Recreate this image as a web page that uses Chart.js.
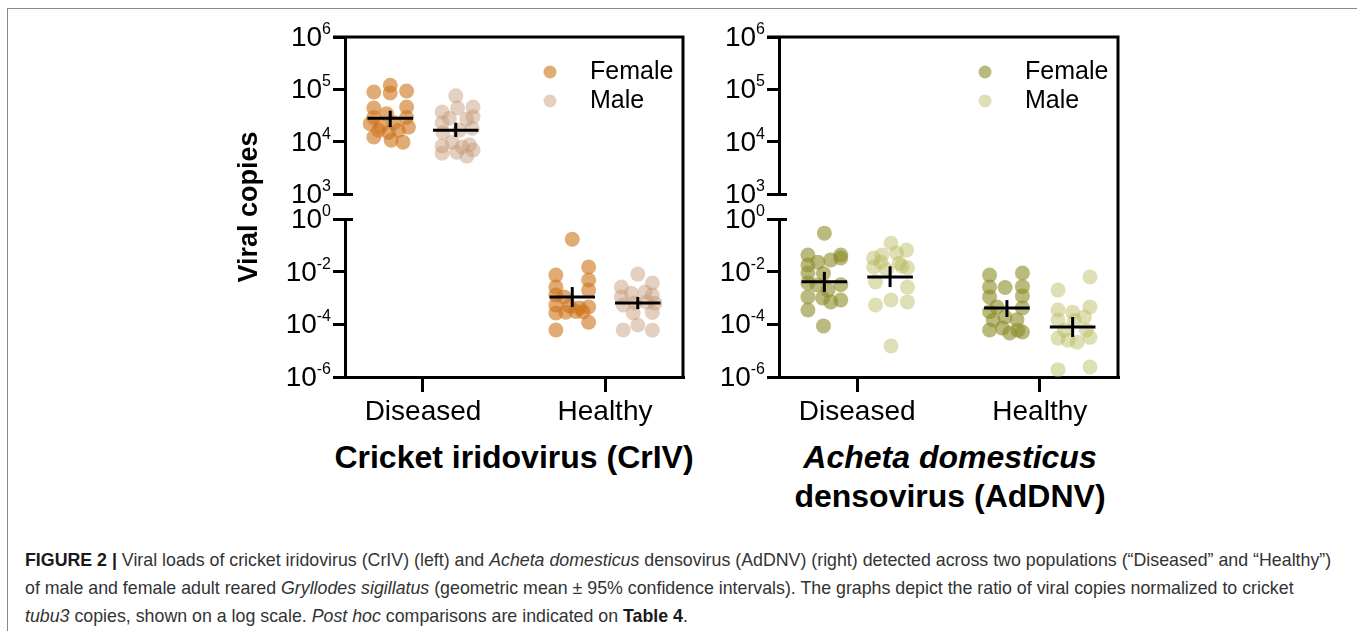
<!DOCTYPE html>
<html>
<head>
<meta charset="utf-8">
<script src="https://cdn.jsdelivr.net/npm/chart.js@4.4.1/dist/chart.umd.min.js"></script>
<style>
  body { margin: 0; background: #fff; width: 1357px; height: 631px; overflow: hidden; position: relative;
         font-family: "Liberation Sans", Arial, sans-serif; }
  #frame { position: absolute; left: 7px; top: 8px; width: 1400px; height: 700px;
           border-left: 1px solid #8a8a8a; border-top: 1px solid #8a8a8a; }
  .panel { position: absolute; top: 20px; height: 410px; }
  #p1 { left: 230px; width: 470px; }
  #p2 { left: 700px; width: 440px; }
  .title { position: absolute; font-weight: bold; font-size: 32px; line-height: 39px; text-align: center;
           color: #000; white-space: nowrap; width: 500px; top: 438px; }
  #caption { position: absolute; left: 25px; top: 546px; font-size: 17.8px; line-height: 28px;
             color: #333; white-space: nowrap; }
  #caption b { color: #1a1a1a; }
</style>
</head>
<body>
<div id="frame"></div>
<div class="panel" id="p1"><canvas id="c1" width="470" height="410"></canvas></div>
<div class="panel" id="p2"><canvas id="c2" width="440" height="410"></canvas></div>
<div class="title" style="left:264px">Cricket iridovirus (CrIV)</div>
<div class="title" style="left:700px"><i>Acheta domesticus</i><br>densovirus (AdDNV)</div>
<div id="caption">
<b>FIGURE 2 |</b> Viral loads of cricket iridovirus (CrIV) (left) and <i>Acheta domesticus</i> densovirus (AdDNV) (right) detected across two populations (“Diseased” and “Healthy”)<br>
of male and female adult reared <i>Gryllodes sigillatus</i> (geometric mean ± 95% confidence intervals). The graphs depict the ratio of viral copies normalized to cricket<br>
<i>tubu3</i> copies, shown on a log scale. <i>Post hoc</i> comparisons are indicated on <b>Table 4</b>.
</div>

<script>
// categories and ticks
const categories = ['Diseased', 'Healthy'];
const sexes = ['Female', 'Male'];
const yTopTicks = [1e3, 1e4, 1e5, 1e6];
const yBotTicks = [1e-6, 1e-4, 1e-2, 1e0];

// CrIV - viral copies per cricket
const crivDisF = [8.9e4, 1.2e5, 8.5e4, 9.3e4, 4.4e4, 4.6e4, 2.9e4, 3.4e4, 2.9e4, 2.2e4, 2.0e4, 2.3e4, 1.9e4, 1.23e4, 1.5e4, 1.07e4, 9.8e3, 1.65e4, 1.65e4];
const crivDisFJit = [-0.18, 0, 0, 0.18, -0.18, 0.18, -0.18, -0.04, 0.18, -0.22, -0.10, 0.04, 0.20, -0.18, -0.02, 0.01, 0.14, 0.09, -0.13];
const crivDisM = [7.5e4, 3.7e4, 4.4e4, 4.6e4, 2.3e4, 2.8e4, 2.7e4, 3.0e4, 1.5e4, 1.65e4, 1.8e4, 8.3e3, 9.8e3, 7.9e3, 8.7e3, 6.0e3, 6.3e3, 6.9e3, 5.3e3];
const crivDisMJit = [0, -0.15, 0.02, 0.19, -0.15, -0.07, 0.12, 0.19, -0.14, 0.04, 0.18, -0.15, -0.04, 0.07, 0.15, -0.15, 0.01, 0.19, 0.12];
const crivHeaF = [1.7e-1, 7.4e-3, 1.5e-2, 2.6e-3, 4.8e-3, 1.3e-3, 2.0e-3, 1.1e-3, 5.4e-4, 5.0e-4, 4.2e-4, 4.6e-4, 2.7e-4, 2.9e-4, 3.1e-4, 3.0e-4, 1.2e-4, 6.1e-5];
const crivHeaFJit = [0, -0.18, 0.18, -0.18, 0.18, -0.18, 0.18, -0.09, -0.18, -0.03, 0.08, 0.18, -0.18, -0.07, 0.04, 0.12, 0.18, -0.18];
const crivHeaM = [8.1e-3, 2.6e-3, 3.7e-3, 1.1e-3, 1.5e-3, 1.7e-3, 1.3e-3, 5.4e-4, 6.5e-4, 7.0e-4, 6.3e-4, 2.7e-4, 2.8e-4, 6.1e-5, 9.4e-5, 6.0e-5];
const crivHeaMJit = [0, -0.18, 0.16, -0.18, -0.07, 0.08, 0.16, -0.16, -0.03, 0.10, 0.19, -0.05, 0.16, -0.16, 0, 0.16];
// geometric means and 95% CI [Diseased, Healthy]
const crivMeanF = [2.8e4, 1.1e-3], crivLoF = [1.9e4, 4.6e-4], crivHiF = [3.9e4, 2.6e-3];
const crivMeanM = [1.66e4, 6.5e-4], crivLoM = [1.23e4, 3.8e-4], crivHiM = [2.3e4, 1.1e-3];

// AdDNV
const adnvDisF = [2.9e-1, 4.3e-2, 1.8e-2, 8.9e-3, 2.3e-2, 2.8e-2, 4.3e-2, 3.3e-2, 8.5e-3, 3.7e-3, 3.1e-3, 2.0e-3, 3.2e-3, 1.1e-3, 1.0e-3, 7.1e-4, 8.4e-4, 3.5e-4, 8.7e-5];
const adnvDisFJit = [0, -0.18, -0.18, -0.18, -0.07, 0.07, 0.18, 0.18, -0.01, -0.18, -0.08, 0.04, 0.18, -0.18, -0.02, 0.07, 0.18, -0.18, -0.01];
const adnvDisM = [1.2e-1, 3.3e-2, 4.3e-2, 5.1e-2, 6.6e-2, 1.5e-2, 1.6e-2, 1.4e-2, 1.2e-2, 2.3e-2, 2.1e-2, 4.1e-3, 2.6e-3, 5.4e-4, 8.4e-4, 7.1e-4, 1.5e-5];
const adnvDisMJit = [0.01, -0.18, -0.09, 0.07, 0.18, -0.18, 0.13, 0.19, -0.04, -0.10, 0.10, -0.16, 0.19, -0.16, 0.01, 0.19, 0.01];
const adnvHeaF = [7.4e-3, 8.9e-3, 2.6e-3, 2.5e-3, 2.7e-3, 1.1e-3, 1.2e-3, 3.0e-4, 4.6e-4, 4.2e-4, 1.45e-4, 1.9e-4, 1.5e-4, 6.1e-5, 7.2e-5, 4.7e-5, 6.0e-5, 5.1e-5];
const adnvHeaFJit = [-0.19, 0.17, -0.19, -0.02, 0.17, -0.19, 0.17, -0.19, -0.11, 0.17, -0.15, -0.02, 0.11, -0.19, -0.05, 0.03, 0.12, 0.17];
const adnvHeaM = [2.0e-3, 6.3e-3, 3.5e-4, 2.9e-4, 4.6e-4, 1.45e-4, 1.4e-4, 1.9e-4, 3.0e-5, 2.5e-5, 2.1e-5, 3.2e-5, 1.9e-6, 2.4e-6, 6.1e-5, 6.0e-5];
const adnvHeaMJit = [-0.16, 0.19, -0.16, 0, 0.19, -0.16, 0.02, 0.13, -0.16, -0.05, 0.05, 0.19, -0.16, 0.19, -0.09, 0.15];
const adnvMeanF = [4.1e-3, 4.2e-4], adnvLoF = [1.7e-3, 1.9e-4], adnvHiF = [9.8e-3, 8.3e-4];
const adnvMeanM = [6.3e-3, 8.0e-5], adnvLoM = [2.6e-3, 3.3e-5], adnvHiM = [1.6e-2, 1.9e-4];

const SHIFT = 0.36;   // female / male offset from category centre
const HALF = 0.25;    // half width of the mean bar

function axisFor(v) { return v >= 1e3 ? 'yTop' : 'yBot'; }

function makeDatasets(series, colors) {
  const ds = [];
  series.forEach((s, si) => {
    const shift = si === 0 ? -SHIFT : SHIFT;
    categories.forEach((c, gi) => {
      const cx = gi * 2 + 1 + shift;
      const ax = axisFor(s.mean[gi]);
      ds.push({
        type: 'scatter', label: s.name, yAxisID: ax, order: 3, clip: false,
        data: s.vals[gi].map((v, i) => ({ x: cx + s.jit[gi][i], y: v })),
        backgroundColor: colors[si], borderWidth: 0, pointRadius: 7.5
      });
      ds.push({
        type: 'scatter', showLine: true, yAxisID: ax, order: 1, clip: false,
        data: [{ x: cx - HALF, y: s.mean[gi] }, { x: cx + HALF, y: s.mean[gi] }],
        borderColor: '#000', borderWidth: 3, pointRadius: 0
      });
      ds.push({
        type: 'scatter', showLine: true, yAxisID: ax, order: 1, clip: false,
        data: [{ x: cx, y: s.lo[gi] }, { x: cx, y: s.hi[gi] }],
        borderColor: '#000', borderWidth: 3, pointRadius: 0
      });
    });
  });
  return ds;
}

function drawPow(ctx, v, xr, y) {
  const e = String(Math.round(Math.log10(v)));
  ctx.font = '16px "Liberation Sans", Arial';
  const ew = ctx.measureText(e).width;
  ctx.textAlign = 'left';
  ctx.textBaseline = 'alphabetic';
  ctx.fillText(e, xr - ew, y - 3);
  ctx.font = '28px "Liberation Sans", Arial';
  const bw = ctx.measureText('10').width;
  ctx.fillText('10', xr - ew - bw, y + 9);
}

const decor = {
  id: 'decor',
  afterDraw(chart, args, opts) {
    const { ctx, chartArea: a, scales } = chart;
    ctx.save();
    ctx.strokeStyle = '#000';
    ctx.lineWidth = 3;
    ctx.beginPath();
    ctx.moveTo(a.left - 12, a.top);
    ctx.lineTo(a.right, a.top);
    ctx.lineTo(a.right, a.bottom + 1.5);
    ctx.stroke();
    // axis break marks
    [scales.yTop.bottom, scales.yBot.top].forEach(y => {
      ctx.beginPath();
      ctx.moveTo(a.left, Math.round(y) + 0.5);
      ctx.lineTo(a.left + 8, Math.round(y) + 0.5);
      ctx.stroke();
    });
    ctx.fillStyle = '#000';
    yTopTicks.forEach(v => drawPow(ctx, v, a.left - 14, scales.yTop.getPixelForValue(v)));
    yBotTicks.forEach(v => drawPow(ctx, v, a.left - 14, scales.yBot.getPixelForValue(v)));
    // category labels
    ctx.font = '28px "Liberation Sans", Arial';
    ctx.textAlign = 'center';
    ctx.textBaseline = 'middle';
    categories.forEach((c, i) => ctx.fillText(c, scales.x.getPixelForValue(i * 2 + 1), a.bottom + 35));
    // legend
    sexes.forEach((s, i) => {
      const ly = a.top + 35 + i * 29;
      ctx.fillStyle = opts.colors[i];
      ctx.beginPath();
      ctx.arc(a.right - 133, ly, 6.5, 0, Math.PI * 2);
      ctx.fill();
      ctx.fillStyle = '#000';
      ctx.font = '25px "Liberation Sans", Arial';
      ctx.textAlign = 'left';
      ctx.fillText(s, a.right - 93, ly);
    });
    if (opts.yTitle) {
      ctx.translate(20, (a.top + a.bottom) / 2);
      ctx.rotate(-Math.PI / 2);
      ctx.font = 'bold 27px "Liberation Sans", Arial';
      ctx.textAlign = 'center';
      ctx.fillText(opts.yTitle, 0, 0);
    }
    ctx.restore();
  }
};

function yAxis(type, min, max, weight, ticks) {
  return {
    type, min, max, position: 'left', stack: 'v', stackWeight: weight,
    grid: { display: true, drawOnChartArea: false, drawTicks: true, tickLength: 12, lineWidth: 3, color: '#000' },
    border: { display: true, width: 3, color: '#000' },
    ticks: { display: false },
    afterBuildTicks: s => { s.ticks = ticks.map(v => ({ value: v })); },
    afterFit: s => { s.width = 14; }
  };
}

function buildChart(id, series, colors, padLeft, padRight, yTitle) {
  new Chart(document.getElementById(id), {
    type: 'scatter',
    data: { datasets: makeDatasets(series, colors) },
    options: {
      responsive: false, animation: false, events: [],
      layout: { padding: { left: padLeft, right: padRight, top: 17, bottom: 38 } },
      plugins: { legend: { display: false }, tooltip: { enabled: false }, decor: { colors, yTitle } },
      scales: {
        x: {
          type: 'linear', min: 0.143, max: 3.857, position: 'bottom',
          grid: { display: true, drawOnChartArea: false, drawTicks: true, tickLength: 15, lineWidth: 3, color: '#000' },
          border: { display: true, width: 3, color: '#000' },
          ticks: { display: false },
          afterBuildTicks: s => { s.ticks = [{ value: 1 }, { value: 3 }]; },
          afterFit: s => { s.height = 15; }
        },
        yBot: yAxis('logarithmic', 1e-6, 1, 158, yBotTicks),
        yGap: {
          type: 'linear', min: 0, max: 1, position: 'left', stack: 'v', stackWeight: 25,
          grid: { display: false }, border: { display: false }, ticks: { display: false },
          afterFit: s => { s.width = 14; }
        },
        yTop: yAxis('logarithmic', 1e3, 1e6, 157, yTopTicks)
      }
    },
    plugins: [decor]
  });
}

buildChart('c1', [
  { name: 'Female', vals: [crivDisF, crivHeaF], jit: [crivDisFJit, crivHeaFJit], mean: crivMeanF, lo: crivLoF, hi: crivHiF },
  { name: 'Male', vals: [crivDisM, crivHeaM], jit: [crivDisMJit, crivHeaMJit], mean: crivMeanM, lo: crivLoM, hi: crivHiM }
], ['rgba(205,115,25,0.6)', 'rgba(195,150,115,0.45)'], 101, 17, 'Viral copies');

buildChart('c2', [
  { name: 'Female', vals: [adnvDisF, adnvHeaF], jit: [adnvDisFJit, adnvHeaFJit], mean: adnvMeanF, lo: adnvLoF, hi: adnvHiF },
  { name: 'Male', vals: [adnvDisM, adnvHeaM], jit: [adnvDisMJit, adnvHeaMJit], mean: adnvMeanM, lo: adnvLoM, hi: adnvHiM }
], ['rgba(140,140,40,0.6)', 'rgba(185,185,90,0.45)'], 65, 22, null);
</script>
</body>
</html>
